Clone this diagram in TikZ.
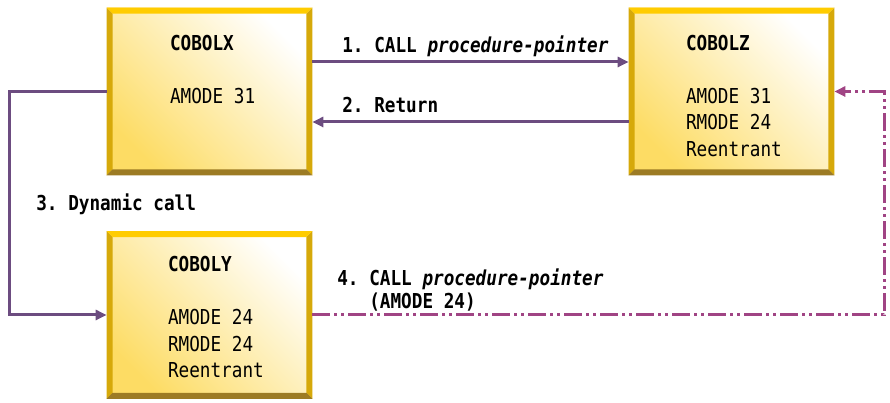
\documentclass[tikz,border=0pt]{standalone}
\usepackage{fontspec}
\setmonofont[FakeStretch=0.86]{DejaVu Sans Mono}
\usetikzlibrary{positioning,arrows.meta,calc}

\definecolor{boxgold}{RGB}{214,169,10}
\definecolor{boxtop}{RGB}{255,204,0}
\definecolor{boxbottom}{RGB}{156,123,36}
\definecolor{boxyellow}{RGB}{253,220,100}
\definecolor{callpurple}{RGB}{108,76,128}
\definecolor{ptrmagenta}{RGB}{160,68,132}

\tikzset{
  progbox/.style={minimum width=4.1cm, minimum height=3.34cm, inner sep=0pt,
    bottom color=boxyellow, top color=white, shading angle=-45},
  boxtext/.style={font=\ttfamily\fontsize{11.7}{15.1}\selectfont, align=left, inner sep=0pt},
  steplabel/.style={font=\ttfamily\bfseries\fontsize{11.7}{13.6}\selectfont, align=left,
    inner sep=0pt, anchor=north west},
  callarrow/.style={draw=callpurple, line width=0.06cm, -{Triangle[length=0.22cm,width=0.2cm]}},
  ptrarrow/.style={draw=ptrmagenta, line width=0.06cm,
    dash pattern=on 0.36cm off 0.08cm on 0.06cm off 0.08cm on 0.06cm off 0.08cm,
    -{Triangle[length=0.22cm,width=0.2cm]}},
}

\begin{document}
\begin{tikzpicture}
  \useasboundingbox (0,0) rectangle (17.8,8.06);

  % programs
  \node[progbox] (cobolx) at (4.19,6.23) {};
  \node[progbox] (cobolz) at (14.63,6.23) {};
  \node[progbox] (coboly) at (4.19,1.76) {};

  \node[boxtext, below right=0.54cm and 1.26cm of cobolx.north west] (cobolx-text)
    {\textbf{COBOLX}\\[15.1pt]AMODE 31};
  \node[boxtext, below right=0.54cm and 1.14cm of cobolz.north west] (cobolz-text)
    {\textbf{COBOLZ}\\[15.1pt]AMODE 31\\RMODE 24\\Reentrant};
  \node[boxtext, below right=0.5cm and 1.22cm of coboly.north west] (coboly-text)
    {\textbf{COBOLY}\\[15.1pt]AMODE 24\\RMODE 24\\Reentrant};

  % bevelled frames
  \foreach \prog in {cobolx,coboly,cobolz}{
    \fill[boxgold] (\prog.north west) -- (\prog.south west) -- ++(0.12,0.12)
      -- ($(\prog.north west)+(0.12,-0.12)$) -- cycle;
    \fill[boxgold] (\prog.north east) -- (\prog.south east) -- ++(-0.12,0.12)
      -- ($(\prog.north east)+(-0.12,-0.12)$) -- cycle;
    \fill[boxtop] (\prog.north west) -- (\prog.north east) -- ++(-0.12,-0.12)
      -- ($(\prog.north west)+(0.12,-0.12)$) -- cycle;
    \fill[boxbottom] (\prog.south west) -- (\prog.south east) -- ++(-0.12,0.12)
      -- ($(\prog.south west)+(0.12,0.12)$) -- cycle;
  }

  % calls
  \coordinate (dynturn) at (0.2,0);
  \coordinate (ptrturn) at (17.68,0);

  \draw[callarrow] ([yshift=0.59cm]cobolx.east) -- ([yshift=0.59cm]cobolz.west);
  \draw[callarrow] ([yshift=-0.61cm]cobolz.west) -- ([yshift=-0.61cm]cobolx.east);
  \draw[callarrow] (cobolx.west) -- (cobolx.west -| dynturn) |- (coboly.west);
  \draw[ptrarrow] (coboly.east) -- (coboly.east -| ptrturn) |- (cobolz.east);

  \node[steplabel] (call-label) at (6.84,7.36) {1. CALL \textit{procedure-pointer}};
  \node[steplabel] (return-label) at (6.84,6.12) {2. Return};
  \node[steplabel] (dynamic-label) at (0.72,4.2) {3. Dynamic call};
  \node[steplabel] (pointer-label) at (6.74,2.7)
    {4. CALL \textit{procedure-pointer}\\\phantom{4.~}(AMODE 24)};
\end{tikzpicture}
\end{document}
